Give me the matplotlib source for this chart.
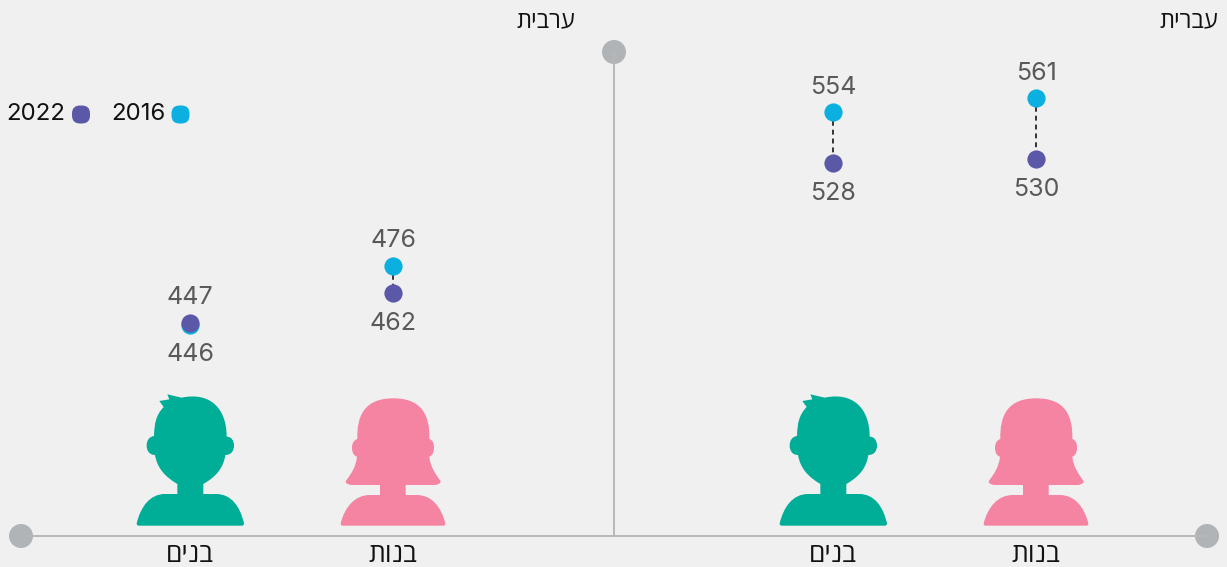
import matplotlib
matplotlib.use("Agg")
import matplotlib.pyplot as plt
from matplotlib.path import Path
from matplotlib.patches import PathPatch, FancyBboxPatch, Circle

# Data
languages = ["עברית", "ערבית"]
genders = ["בנות", "בנים", "בנות", "בנים"]
x_centers = [1036, 833, 393, 190]
values_2016 = [561, 554, 476, 446]
values_2022 = [530, 528, 462, 447]
label_2016_above = [True, True, True, False]
legend_years = ["2016", "2022"]

BG = "#f0f0f0"; CYAN = "#0bb0e0"; PURPLE = "#5c58a8"
GREEN = "#00ae98"; PINK = "#f583a2"; AXIS = "#b8b8b8"; KNOB = "#b1b4b6"
GREY_TXT = "#595959"
W, H = 1227, 567
FONT = "Inter"


def heb(s):
    # matplotlib lays text out left to right, so visual order is needed
    return s[::-1]


fig = plt.figure(figsize=(W / 100, H / 100), dpi=100, facecolor=BG)
deco = fig.add_axes([0, 0, 1, 1]); deco.set_xlim(0, W); deco.set_ylim(H, 0); deco.axis("off")
ax = fig.add_axes([0, 0, 1, 1]); ax.patch.set_alpha(0); ax.axis("off")
ax.set_xlim(0, W)
# pixel = 1203.5 - 1.97 * score
ax.set_ylim((1203.5 - H) / 1.97, 1203.5 / 1.97)

M, L, C = Path.MOVETO, Path.LINETO, Path.CURVE4
boy = [
    (M, (50, 415)), (C, (62, 365), (90, 327), (135, 327)), (L, (172, 327)), (L, (172, 297)),
    (C, (135, 275), (112, 250), (105, 210)), (C, (88, 210), (80, 197), (80, 182)),
    (C, (80, 165), (88, 155), (102, 153)), (C, (103, 115), (108, 90), (131, 66)),
    (L, (118, 48)), (L, (148, 43)), (L, (142, 28)), (L, (185, 38)),
    (C, (270, 20), (320, 70), (320, 155)), (C, (335, 155), (342, 168), (342, 182)),
    (C, (342, 198), (333, 210), (316, 210)), (C, (310, 250), (288, 275), (250, 297)),
    (L, (250, 327)), (L, (288, 327)), (C, (335, 327), (360, 365), (372, 415)),
    (C, (372, 420), (370, 422), (365, 422)), (L, (57, 422)), (C, (52, 422), (50, 420), (50, 415)),
]
girl = [
    (M, (662, 415)), (C, (675, 365), (705, 330), (750, 330)), (L, (780, 330)), (L, (780, 300)),
    (L, (695, 300)), (C, (680, 298), (675, 293), (678, 287)), (C, (695, 265), (708, 245), (711, 215)),
    (C, (700, 212), (696, 200), (696, 188)), (C, (696, 175), (702, 165), (712, 162)),
    (C, (710, 90), (735, 40), (820, 40)), (C, (905, 40), (930, 90), (928, 162)),
    (C, (938, 165), (942, 175), (942, 188)), (C, (942, 200), (938, 212), (928, 215)),
    (C, (931, 245), (945, 265), (961, 287)), (C, (964, 293), (958, 298), (945, 300)),
    (L, (857, 300)), (L, (857, 330)), (L, (890, 330)), (C, (935, 330), (963, 365), (976, 415)),
    (C, (976, 420), (974, 422), (970, 422)), (L, (668, 422)), (C, (664, 422), (662, 420), (662, 415)),
]


def silhouette(spec, dx, color):
    verts, codes = [], []
    for item in spec:
        code, pts = item[0], item[1:]
        for p in pts:
            verts.append((120 + p[0] / 3 + dx, 385 + p[1] / 3))
            codes.append(code)
    deco.add_patch(PathPatch(Path(verts, codes), fc=color, ec="none"))


for dx in (0, 643):
    silhouette(boy, dx, GREEN)
    silhouette(girl, dx, PINK)

# Axes cross
deco.plot([21, 1207], [536, 536], color=AXIS, lw=1.4, solid_capstyle="butt")
deco.plot([614, 614], [52, 536], color=AXIS, lw=1.4, solid_capstyle="butt")
for cx, cy in [(21, 536), (1207, 536), (614, 52)]:
    deco.add_patch(Circle((cx, cy), 12, fc=KNOB, ec="none"))

# Legend
for (lx, col, yr, tx) in [(171, CYAN, legend_years[0], 165.5), (71.5, PURPLE, legend_years[1], 65.5)]:
    deco.add_patch(FancyBboxPatch((lx + 5, 110), 9, 9, boxstyle="round,pad=4.5,rounding_size=8", fc=col, ec="none"))
    deco.text(tx, 114, yr, ha="right", va="center", fontsize=17.3, family=FONT, color="#111111")

# Text labels
deco.text(575, 21, heb(languages[1]), ha="right", va="center", fontsize=17, family="Open Sans", color="#111111")
deco.text(1218, 21, heb(languages[0]), ha="right", va="center", fontsize=17, family="Open Sans", color="#111111")
for x, g in zip(x_centers, genders):
    deco.text(x, 555, heb(g), ha="center", va="center", fontsize=19, family="Open Sans", color="#111111")

# Dumbbells
for x, a, b, up in zip(x_centers, values_2016, values_2022, label_2016_above):
    ax.plot([x, x], [a, b], color="black", lw=1.1, dashes=(3.2, 2.6), zorder=1)
    ax.scatter([x], [a], s=172, color=CYAN, linewidths=0, zorder=2)
    ax.scatter([x], [b], s=172, color=PURPLE, linewidths=0, zorder=3)
    hi = 18.0; lo = -21.5
    ax.annotate(str(a), (x, a), xytext=(0, hi if up else lo), textcoords="offset points",
                ha="center", va="center", fontsize=18, family=FONT, color=GREY_TXT)
    ax.annotate(str(b), (x, b), xytext=(0, lo if up else hi), textcoords="offset points",
                ha="center", va="center", fontsize=18, family=FONT, color=GREY_TXT)

fig.savefig("out.png", dpi=100, facecolor=BG)
